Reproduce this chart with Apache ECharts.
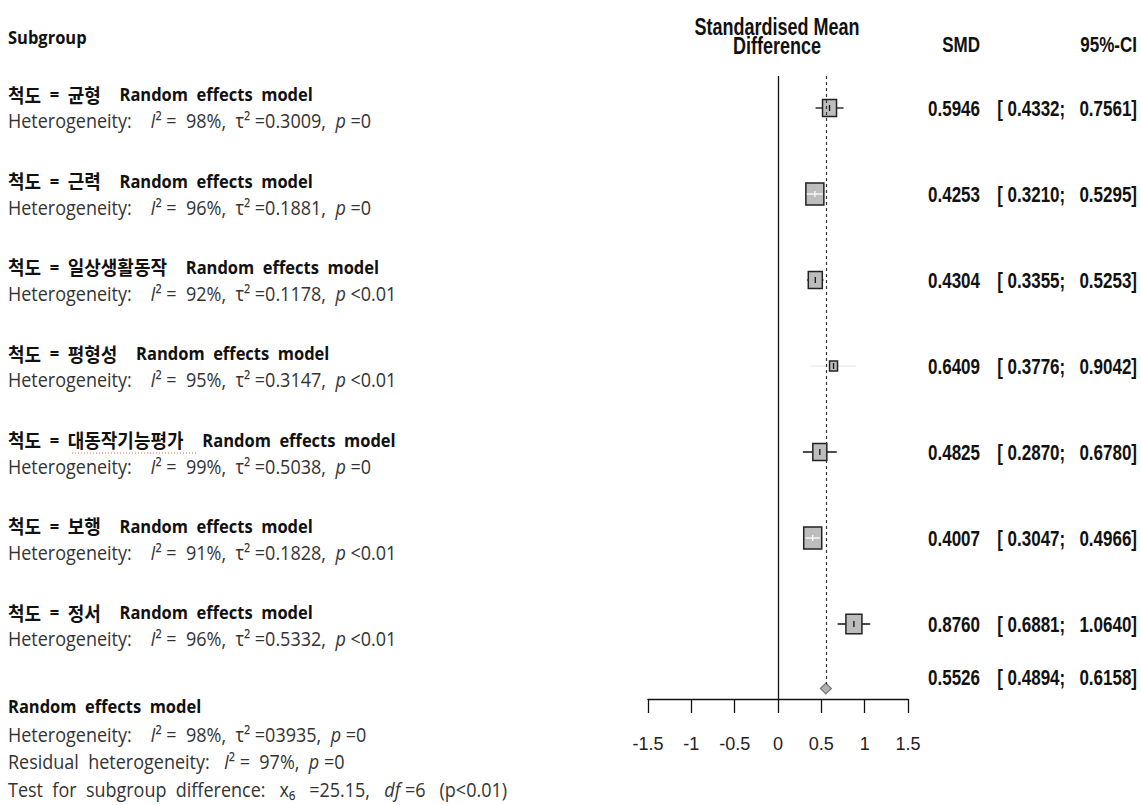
<!DOCTYPE html>
<html>
<head>
<meta charset="utf-8">
<script src="https://cdn.jsdelivr.net/npm/echarts@6/dist/echarts.min.js"></script>
<style>
  html, body { margin: 0; padding: 0; background: #fff; }
  #main { width: 1141px; height: 805px; }
</style>
</head>
<body>
<div id="main"></div>
<script>
// ---- data ----
const subgroups = ['균형', '근력', '일상생활동작', '평형성', '대동작기능평가', '보행', '정서'];
const smd   = [0.5946, 0.4253, 0.4304, 0.6409, 0.4825, 0.4007, 0.8760];
const lower = [0.4332, 0.3210, 0.3355, 0.3776, 0.2870, 0.3047, 0.6881];
const upper = [0.7561, 0.5295, 0.5253, 0.9042, 0.6780, 0.4966, 1.0640];
const weight = [12.6, 20.8, 12.6, 4.1, 12.6, 20.8, 16.5];   // relative box weights (estimated)
const i2    = ['98%', '96%', '92%', '95%', '99%', '91%', '96%'];
const tau2  = ['0.3009', '0.1881', '0.1178', '0.3147', '0.5038', '0.1828', '0.5332'];
const pval  = ['=0', '=0', '<0.01', '<0.01', '=0', '<0.01', '<0.01'];
const overall = [0.5526, 0.4894, 0.6158];   // SMD, lower, upper
const rowPos = [1, 2, 3, 4, 5, 6, 7];
const overallPos = 7.75;
const xTickMin = -1.5, xTickMax = 1.5, xTickStep = 0.5;
const faintRows = [3];

// ---- styles ----
const SANS = '"Liberation Sans", Arial, sans-serif';
const LFONT = '"Open Sans", "Noto Sans CJK KR", sans-serif';
const KFONT = '"Noto Sans CJK KR", "Noto Sans", sans-serif';
const RSTRETCH = 1.3;   // vertical stretch of the right-hand numbers
const LSTRETCH = 1.1;   // vertical stretch of the left-hand text
const S = n => '\u00a0'.repeat(n);   // non-collapsing spaces
const fmt = v => v.toFixed(4);
const ciText = (lo, hi) => '[' + S(1) + fmt(lo) + ';' + S(3) + fmt(hi) + ']';

const rowData = subgroups.map((s, i) => [smd[i], lower[i], upper[i], rowPos[i], weight[i]]);

function numText(x, y, text) {
  return { type: 'text', x: x, y: y, scaleY: RSTRETCH,
    style: { text: text, align: 'right', verticalAlign: 'middle',
      fontFamily: SANS, fontWeight: 'bold', fontSize: 17, fill: '#111' } };
}

function renderRow(params, api) {
  const est = api.value(0), lo = api.value(1), hi = api.value(2), pos = api.value(3), w = api.value(4);
  const c = api.coord([est, pos]);
  const l = api.coord([lo, pos]);
  const h = api.coord([hi, pos]);
  const bw = 3.95 * Math.sqrt(w), bh = bw * 1.22;
  const inside = l[0] >= c[0] - bw / 2 - 1 && h[0] <= c[0] + bw / 2 + 1;
  const faint = faintRows.indexOf(params.dataIndex) >= 0;
  const children = [
    { type: 'line', shape: { x1: l[0], y1: c[1], x2: h[0], y2: c[1] },
      style: { stroke: faint ? '#ececec' : '#111', lineWidth: 1.3 } },
    { type: 'rect', shape: { x: c[0] - bw / 2, y: c[1] - bh / 2, width: bw, height: bh },
      style: { fill: '#bdbdbd', stroke: '#222', lineWidth: 1.5 } }
  ];
  if (inside) {
    children.push({ type: 'line', shape: { x1: l[0] + 1, y1: c[1], x2: h[0] - 1, y2: c[1] },
      style: { stroke: '#fff', lineWidth: 1.3 } });
    children.push({ type: 'line', shape: { x1: c[0], y1: c[1] - 3, x2: c[0], y2: c[1] + 3 },
      style: { stroke: '#fff', lineWidth: 1.3 } });
  } else {
    children.push({ type: 'line', shape: { x1: c[0], y1: c[1] - 3, x2: c[0], y2: c[1] + 3 },
      style: { stroke: '#111', lineWidth: 1.3 } });
  }
  children.push(numText(980, c[1], fmt(est)));
  children.push(numText(1137, c[1], ciText(lo, hi)));
  return { type: 'group', children };
}

function renderDiamond(params, api) {
  const est = api.value(0), lo = api.value(1), hi = api.value(2), pos = api.value(3);
  const c = api.coord([est, pos]);
  const l = api.coord([lo, pos]);
  const h = api.coord([hi, pos]);
  const dh = 5.5;
  return { type: 'group', children: [
    { type: 'polygon', shape: { points: [[l[0], c[1]], [c[0], c[1] - dh], [h[0], c[1]], [c[0], c[1] + dh]] },
      style: { fill: '#b0b0b0', stroke: '#777', lineWidth: 1.2 } },
    numText(980, c[1] - 11, fmt(est)),
    numText(1137, c[1] - 11, ciText(lo, hi))
  ]};
}

// ---- left-hand text ----
const NS = 18;     // regular text size
const BS = 16.5;   // bold latin size
const kRich = {
  b: { fontFamily: LFONT, fontWeight: 'bold', fontSize: BS, fill: '#111' },
  k: { fontFamily: KFONT, fontWeight: 'bold', fontSize: 18, fill: '#111' },
  n: { fontFamily: LFONT, fontSize: NS, fill: '#333' },
  i: { fontFamily: LFONT, fontSize: NS, fontStyle: 'italic', fill: '#333' }
};
function textEl(x, y, text) {
  return { type: 'text', x: x, y: y, scaleY: LSTRETCH, silent: true,
    style: { text: text, rich: kRich, align: 'left', verticalAlign: 'middle',
      fontFamily: LFONT, fontSize: NS, fill: '#333' } };
}
function hetLine(i2v, tauv, pv) {
  return '{n|Heterogeneity:' + S(4) + '}{i|I}{n|²' + S(1) + '=' + S(2) + i2v + ',' + S(2) + 'τ²' + S(1) +
    '=' + tauv + ',' + S(2) + '}{i|p}{n|' + S(1) + pv + '}';
}
const graphics = [];
graphics.push(textEl(8, 37, '{b|Subgroup}'));
subgroups.forEach((s, i) => {
  const y = 94 + 86.3 * i;
  graphics.push(textEl(8, y, '{k|척도}{b|' + S(2) + '=' + S(2) + '}{k|' + s + '}{n|' + S(4) + '}{b|Random' + S(2) + 'effects' + S(2) + 'model}'));
  graphics.push(textEl(8, y + 27, hetLine(i2[i], tau2[i], pval[i])));
});
graphics.push(textEl(8, 706, '{b|Random' + S(2) + 'effects' + S(2) + 'model}'));
graphics.push(textEl(8, 735, hetLine('98%', '03935', '=0')));
graphics.push(textEl(8, 762, '{n|Residual' + S(2) + 'heterogeneity:' + S(3) + '}{i|I}{n|²' + S(1) + '=' + S(2) + '97%,' + S(2) + '}{i|p}{n|' + S(1) + '=0}'));
graphics.push(textEl(8, 790, '{n|Test' + S(2) + 'for' + S(2) + 'subgroup' + S(2) + 'difference:' + S(3) + 'x₆' + S(3) + '=25.15,' + S(3) + '}{i|df}{n|' + S(1) + '=6' + S(3) + '(p<0.01)}'));
// spell-check style underline seen in the reference
graphics.push({ type: 'line', silent: true, shape: { x1: 72, y1: 453, x2: 197, y2: 453 },
  style: { stroke: '#e07050', lineWidth: 1, lineDash: [1, 2] } });
// right-hand headers
const hdr = (x, y, t, align, fs) => ({ type: 'text', x: x, y: y, scaleY: RSTRETCH, silent: true,
  style: { text: t, align: align, verticalAlign: 'middle', fontFamily: SANS,
    fontWeight: 'bold', fontSize: fs, fill: '#111' } });
graphics.push(hdr(777, 27, 'Standardised Mean', 'center', 18));
graphics.push(hdr(777, 46, 'Difference', 'center', 18));
graphics.push(hdr(980, 44, 'SMD', 'right', 17));
graphics.push(hdr(1137, 44, '95%-CI', 'right', 17));

const chart = echarts.init(document.getElementById('main'), null, { renderer: 'svg' });
chart.setOption({
  animation: false,
  backgroundColor: '#fff',
  grid: { left: 648, right: 233, top: 76, bottom: 106, containLabel: false },
  xAxis: {
    type: 'value', min: xTickMin, max: xTickMax, interval: xTickStep,
    axisLine: { show: true, onZero: false, lineStyle: { color: '#111', width: 1.3 } },
    axisTick: { show: true, length: 14, lineStyle: { color: '#111', width: 1.3 } },
    splitLine: { show: false },
    axisLabel: { margin: 36, fontFamily: SANS, fontSize: 18, color: '#222',
      formatter: v => String(v) }
  },
  yAxis: { type: 'value', inverse: true, min: 0.628, max: 7.872, show: false },
  graphic: graphics,
  series: [
    {
      type: 'custom', name: 'subgroups', renderItem: renderRow, data: rowData, clip: false, silent: true,
      markLine: {
        silent: true, symbol: ['none', 'none'], label: { show: false },
        data: [
          [{ coord: [0, 0.628], lineStyle: { color: '#111', width: 1.3, type: 'solid' } }, { coord: [0, 7.872] }],
          [{ coord: [overall[0], 0.628], lineStyle: { color: '#333', width: 1.2, type: [3, 3] } }, { coord: [overall[0], overallPos - 0.05] }]
        ]
      }
    },
    {
      type: 'custom', name: 'overall', renderItem: renderDiamond, clip: false, silent: true,
      data: [[overall[0], overall[1], overall[2], overallPos]]
    }
  ]
});
</script>
</body>
</html>
